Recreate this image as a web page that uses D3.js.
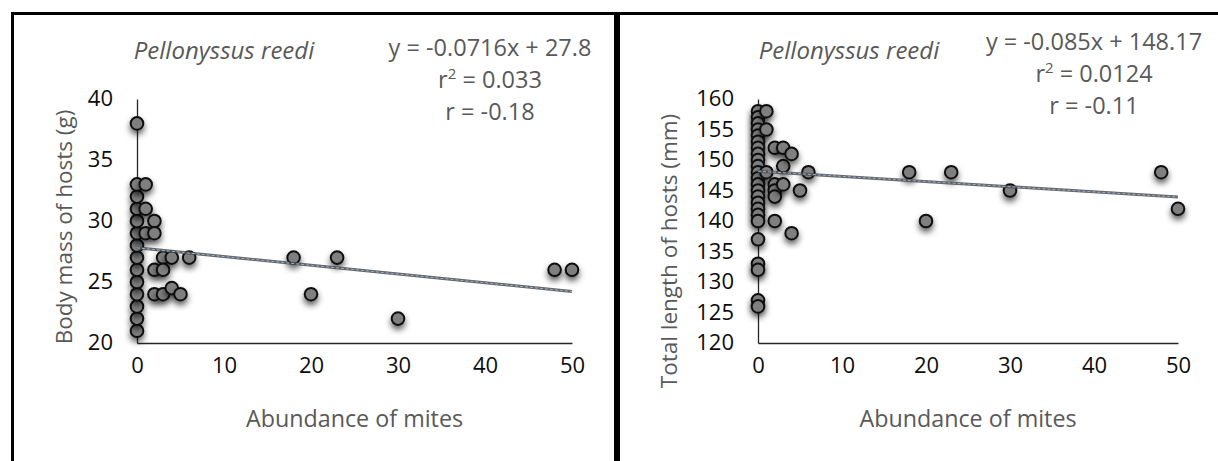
<!DOCTYPE html>
<html>
<head>
<meta charset="utf-8">
<script src="https://cdn.jsdelivr.net/npm/d3@7"></script>
<style>
  body { margin: 0; background: #fff; }
  svg { display: block; }
  text { font-family: 'Open Sans', sans-serif; }
</style>
</head>
<body>
<svg width="1218" height="461"></svg>
<script>
// body mass panel (left)
const massX = [0,0,0,0,0,0,0,0,0,0,0,0,0,0, 1,1,1, 2,2,2,2, 3,3,3, 4,4, 5, 6, 18, 20, 23, 30, 48, 50]
const massY = [21,22,23,24,25,26,27,28,29,30,31,32,33,38, 33,31,29, 30,29,26,24, 27,26,24, 27,24.5, 24, 27, 27, 24, 27, 22, 26, 26]
const massTicks = [20, 25, 30, 35, 40]

// total length panel (right)
const lengthX = [0,0,0,0,0,0,0,0,0,0,0,0,0,0,0,0,0,0,0,0,0,0,0,0, 1,1,1, 2,2,2,2,2, 3,3,3, 4,4, 5, 6, 18, 20, 23, 30, 48, 50]
const lengthY = [158,157,156,155,154,153,152,151,150,149,148,147,146,145,144,143,142,141,140,137,133,132,127,126,
  158,155,148, 152,146,145,144,140, 152,149,146, 151,138, 145, 148, 148, 140, 148, 145, 148, 142]
const lengthTicks = [120, 125, 130, 135, 140, 145, 150, 155, 160]

const xTicks = [0, 10, 20, 30, 40, 50]

const svg = d3.select('svg')

// drop shadow under the markers
const defs = svg.append('defs')
defs.append('filter')
  .attr('id', 'shadow')
  .attr('x', '-60%').attr('y', '-60%')
  .attr('width', '220%').attr('height', '240%')
  .append('feDropShadow')
  .attr('dx', 0).attr('dy', 4)
  .attr('stdDeviation', 3)
  .attr('flood-color', '#000')
  .attr('flood-opacity', 0.65)

function drawPanel(p) {
  const g = svg.append('g')

  // frame
  g.append('rect')
    .attr('x', p.box[0]).attr('y', p.box[1])
    .attr('width', p.box[2]).attr('height', p.box[3])
    .attr('fill', 'none').attr('stroke', '#000').attr('stroke-width', 3)

  const x = d3.scaleLinear().domain([0, 50]).range(p.xRange)
  const y = d3.scaleLinear().domain(p.yDomain).range([343, 99])

  const yAxis = g.append('g')
    .attr('transform', `translate(${p.xRange[0]},0)`)
    .call(d3.axisLeft(y).tickValues(p.yTicks).tickSize(0).tickPadding(24).tickFormat(d3.format('d')))
  const xAxis = g.append('g')
    .attr('transform', 'translate(0,343)')
    .call(d3.axisBottom(x).tickValues(xTicks).tickSize(0).tickPadding(24))
  ;[xAxis, yAxis].forEach((a) => {
    a.select('.domain').attr('stroke', '#262626').attr('stroke-width', 1.3)
    a.selectAll('text').attr('font-size', 22).attr('fill', '#0d0d0d')
      .attr('font-family', "'Open Sans', sans-serif")
  })
  xAxis.selectAll('text').attr('dy', '0.25em')
  yAxis.selectAll('text').attr('dy', '0.3em')

  // markers
  const pts = p.xs.map((v, i) => ({ x: v, y: p.ys[i] }))
  g.append('g')
    .selectAll('circle')
    .data(pts)
    .enter()
    .append('circle')
    .attr('cx', (d) => x(d.x))
    .attr('cy', (d) => y(d.y))
    .attr('r', 6.3)
    .attr('fill', '#7f7f7f')
    .attr('stroke', '#111')
    .attr('stroke-width', 2)
    .attr('filter', 'url(#shadow)')

  // trend line
  const fit = (v) => p.slope * v + p.intercept
  g.append('line')
    .attr('x1', x(0)).attr('y1', y(fit(0)))
    .attr('x2', x(50)).attr('y2', y(fit(50)))
    .attr('stroke', '#4d4d4d').attr('stroke-width', 3).attr('opacity', 0.85)
  g.append('line')
    .attr('x1', x(0)).attr('y1', y(fit(0)))
    .attr('x2', x(50)).attr('y2', y(fit(50)))
    .attr('stroke', '#8db3dc').attr('stroke-width', 1).attr('stroke-dasharray', '3,2')

  // texts
  g.append('text')
    .attr('x', p.titleX).attr('y', 59)
    .attr('text-anchor', 'middle')
    .attr('font-size', 24).attr('font-style', 'italic').attr('fill', '#595959')
    .text('Pellonyssus reedi')

  p.stats.forEach((s, i) => {
    const t = g.append('text')
      .attr('x', p.statX).attr('y', p.statY + i * 32)
      .attr('text-anchor', 'middle')
      .attr('font-size', 23.5).attr('fill', '#595959')
    if (i == 1) {
      t.append('tspan').text('r')
      t.append('tspan').attr('font-size', 15).attr('dy', -9).text('2')
      t.append('tspan').attr('dy', 9).text(' = ' + s)
    } else {
      t.text(s)
    }
  })

  g.append('text')
    .attr('x', (p.xRange[0] + p.xRange[1]) / 2).attr('y', 427)
    .attr('text-anchor', 'middle')
    .attr('font-size', 23.3).attr('fill', '#595959')
    .text('Abundance of mites')

  g.append('text')
    .attr('transform', `translate(${p.yTitleX},${p.yTitleY}) rotate(-90)`)
    .attr('text-anchor', 'middle')
    .attr('font-size', 22.5).attr('fill', '#595959')
    .text(p.yTitle)
}

drawPanel({
  box: [12.5, 13.5, 603, 470],
  xRange: [137, 572],
  yDomain: [20, 40],
  yTicks: massTicks,
  xs: massX, ys: massY,
  slope: -0.0716, intercept: 27.8,
  titleX: 224,
  statX: 490, statY: 56,
  stats: ['y = -0.0716x + 27.8', '0.033', 'r = -0.18'],
  yTitle: 'Body mass of hosts (g)',
  yTitleX: 72, yTitleY: 227,
})

drawPanel({
  box: [618.5, 13.5, 620, 470],
  xRange: [758, 1178],
  yDomain: [120, 160],
  yTicks: lengthTicks,
  xs: lengthX, ys: lengthY,
  slope: -0.085, intercept: 148.17,
  titleX: 849,
  statX: 1094, statY: 50,
  stats: ['y = -0.085x + 148.17', '0.0124', 'r = -0.11'],
  yTitle: 'Total length of hosts (mm)',
  yTitleX: 677, yTitleY: 251,
})
</script>
</body>
</html>
